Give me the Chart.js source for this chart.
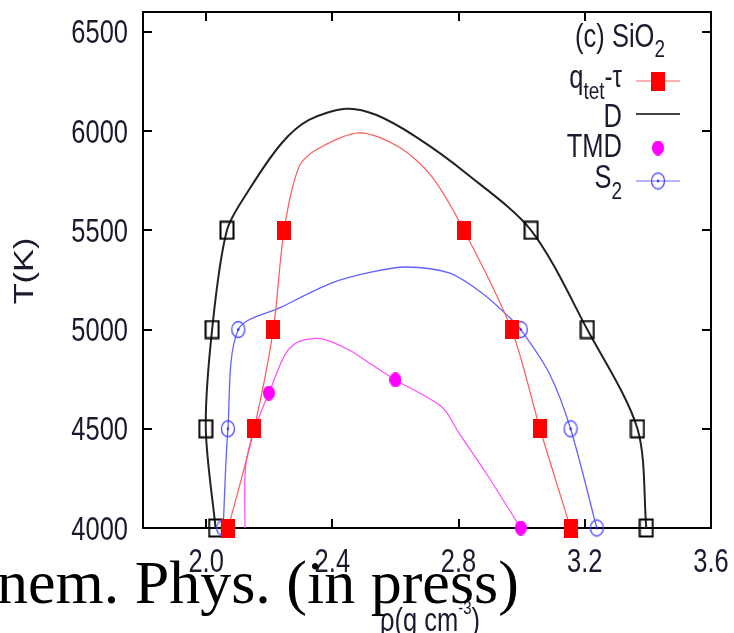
<!DOCTYPE html>
<html>
<head>
<meta charset="utf-8">
<script src="https://cdn.jsdelivr.net/npm/chart.js@4.4.1/dist/chart.umd.min.js"></script>
<style>
  body { margin: 0; background: #fff; }
  #wrap { width: 734px; height: 633px; }
</style>
</head>
<body>
<div id="wrap"><canvas id="sio2Chart" width="734" height="633"></canvas></div>
<script>
// isotherms where the boundaries were sampled (K)
var isotherms = [4000, 4500, 5000, 5500];

// q_tet-tau anomaly boundary, low and high density side (g/cm^3)
var qtetLow  = [2.07, 2.152, 2.213, 2.247];
var qtetHigh = [3.155, 3.058, 2.968, 2.817];

// diffusivity anomaly boundary
var diffLow  = [2.03, 1.999, 2.019, 2.066];
var diffHigh = [3.395, 3.367, 3.208, 3.03];

// excess entropy S2 boundary (only up to 5000 K)
var s2Low  = [2.054, 2.069, 2.102];
var s2High = [3.238, 3.155, 2.997];

// temperature of maximum density
var tmdRho = [2.199, 2.6, 2.997];
var tmdT   = [4680, 4746, 4000];

// smoothed boundary lines, [rho, T]
var diffCurve = [[2.03, 4000], [1.999, 4500], [2.019, 5000], [2.066, 5500],
  [2.136, 5704], [2.24, 5940], [2.326, 6056], [2.443, 6112], [2.538, 6082],
  [2.665, 5971], [2.823, 5789], [3.03, 5500], [3.208, 5000], [3.367, 4500], [3.395, 4000]];
var qtetCurve = [[2.07, 4000], [2.152, 4500], [2.213, 5000], [2.247, 5500],
  [2.294, 5819], [2.348, 5905], [2.484, 5991], [2.611, 5920], [2.716, 5769],
  [2.817, 5500], [2.968, 5000], [3.058, 4500], [3.155, 4000]];
var s2Curve = [[2.054, 4000], [2.069, 4500], [2.102, 5000],
  [2.24, 5114], [2.399, 5235], [2.526, 5290], [2.633, 5315], [2.77, 5285],
  [2.874, 5184], [2.96, 5063], [2.997, 5000], [3.087, 4781], [3.155, 4500], [3.238, 4000]];
var tmdCurve = [[2.123, 4000], [2.125, 4309], [2.152, 4494], [2.199, 4680],
  [2.252, 4880], [2.294, 4939], [2.367, 4953], [2.453, 4897], [2.527, 4821],
  [2.6, 4746], [2.747, 4610], [2.801, 4479], [2.887, 4277], [2.997, 4000]];

var xTicks = [2.0, 2.4, 2.8, 3.2, 3.6];
var yTicks = [4000, 4500, 5000, 5500, 6000, 6500];

var STRETCH = 1.27;
var SANS = '"Liberation Sans", Arial, sans-serif';
var TEXT = '#1a1a2e';

function pts(xs, ys) {
  return xs.map(function (v, i) { return { x: v, y: ys[i] }; });
}
function pairs(list) {
  return list.map(function (p) { return { x: p[0], y: p[1] }; });
}

// marker sprites (the plot is slightly taller than wide, so are the marks)
function sprite(w, h, draw) {
  var c = document.createElement('canvas');
  c.width = w; c.height = h;
  draw(c.getContext('2d'), w, h);
  return c;
}
var openSquare = sprite(16, 20, function (g, w, h) {
  g.strokeStyle = '#000'; g.lineWidth = 2;
  g.strokeRect(1.5, 1.5, w - 3, h - 3);
});
var redSquare = sprite(14, 19, function (g, w, h) {
  g.fillStyle = '#ff0000'; g.fillRect(0, 0, w, h);
});
var blueRing = sprite(16, 19, function (g, w, h) {
  g.strokeStyle = '#4a4aff'; g.lineWidth = 1.3;
  g.beginPath(); g.ellipse(w / 2, h / 2, w / 2 - 1.5, h / 2 - 1.5, 0, 0, Math.PI * 2); g.stroke();
  g.fillStyle = '#2020ff';
  g.beginPath(); g.arc(w / 2, h / 2, 1.2, 0, Math.PI * 2); g.fill();
});
var magentaDot = sprite(12, 15, function (g, w, h) {
  g.fillStyle = '#ff00ff';
  g.beginPath(); g.ellipse(w / 2, h / 2, w / 2, h / 2, 0, 0, Math.PI * 2); g.fill();
});

function tallText(ctx, str, x, y, size, align, family) {
  ctx.save();
  ctx.translate(x, y);
  ctx.scale(1, STRETCH);
  ctx.font = size + 'px ' + (family || SANS);
  ctx.textAlign = align || 'left';
  ctx.textBaseline = 'alphabetic';
  ctx.fillText(str, 0, 0);
  ctx.restore();
}
// right aligned text made of runs: [text, size, baseline shift]
function richText(ctx, parts, xRight, y) {
  var widths = parts.map(function (p) {
    ctx.font = p[1] + 'px ' + SANS;
    return ctx.measureText(p[0]).width;
  });
  var x = xRight - widths.reduce(function (a, b) { return a + b; }, 0);
  parts.forEach(function (p, i) {
    tallText(ctx, p[0], x, y + p[2], p[1], 'left');
    x += widths[i];
  });
}

// box with inward ticks on all four sides, plus the tick labels
var framePlugin = {
  id: 'frame',
  beforeDatasetsDraw: function (chart) {
    var ctx = chart.ctx, a = chart.chartArea, sx = chart.scales.x, sy = chart.scales.y;
    ctx.save();
    ctx.strokeStyle = '#000';
    ctx.lineWidth = 2;
    ctx.strokeRect(a.left, a.top, a.right - a.left, a.bottom - a.top);
    ctx.beginPath();
    sx.ticks.forEach(function (t) {
      var px = Math.round(sx.getPixelForValue(t.value));
      ctx.moveTo(px, a.bottom); ctx.lineTo(px, a.bottom - 9);
      ctx.moveTo(px, a.top); ctx.lineTo(px, a.top + 9);
    });
    sy.ticks.forEach(function (t) {
      var py = Math.round(sy.getPixelForValue(t.value));
      ctx.moveTo(a.left, py); ctx.lineTo(a.left + 9, py);
      ctx.moveTo(a.right, py); ctx.lineTo(a.right - 9, py);
    });
    ctx.stroke();

    ctx.fillStyle = TEXT;
    sx.ticks.forEach(function (t) {
      tallText(ctx, t.value.toFixed(1), sx.getPixelForValue(t.value), a.bottom + 44, 25.5, 'center');
    });
    sy.ticks.forEach(function (t) {
      tallText(ctx, String(t.value), a.left - 15, sy.getPixelForValue(t.value) + 11.5, 25.5, 'right');
    });
    ctx.restore();
  }
};

// titles, key and caption
var labelPlugin = {
  id: 'labels',
  afterDraw: function (chart) {
    var ctx = chart.ctx;
    ctx.save();
    ctx.fillStyle = TEXT;

    // axis titles
    ctx.save();
    ctx.translate(26, 271);
    ctx.rotate(-Math.PI / 2);
    ctx.scale(STRETCH, 1);
    ctx.font = '27px ' + SANS;
    ctx.textAlign = 'center';
    ctx.textBaseline = 'middle';
    ctx.fillText('T(K)', 0, 0);
    ctx.restore();
    richText(ctx, [['\u03c1(g cm', 25.5, 0], ['-3', 15, -17], [')', 25.5, 0]], 480, 631);

    // key
    richText(ctx, [['(c) SiO', 25.5, 0], ['2', 19, 10]], 665, 47);
    richText(ctx, [['q', 25.5, 0], ['tet', 19, 11], ['-\u03c4', 24, -1]], 622, 88);
    richText(ctx, [['D', 25.5, 0]], 622, 127);
    richText(ctx, [['TMD', 25.5, 0]], 622, 157);
    richText(ctx, [['S', 25.5, 0], ['2', 19, 11]], 622, 188);

    ctx.lineWidth = 1.2;
    ctx.strokeStyle = '#ff6060';
    ctx.beginPath(); ctx.moveTo(636, 81); ctx.lineTo(680, 81); ctx.stroke();
    ctx.drawImage(redSquare, 658 - 7, 81 - 9.5);
    ctx.lineWidth = 2;
    ctx.strokeStyle = '#444';
    ctx.beginPath(); ctx.moveTo(636, 114); ctx.lineTo(680, 114); ctx.stroke();
    ctx.drawImage(magentaDot, 658 - 6, 148 - 7.5);
    ctx.lineWidth = 1.2;
    ctx.strokeStyle = '#6a6aff';
    ctx.beginPath(); ctx.moveTo(636, 181); ctx.lineTo(680, 181); ctx.stroke();
    ctx.drawImage(blueRing, 658 - 8, 181 - 9.5);

    // caption running across the foot of the figure
    ctx.fillStyle = '#000';
    ctx.font = '62px "Liberation Serif", "Times New Roman", serif';
    ctx.textAlign = 'left';
    ctx.textBaseline = 'alphabetic';
    ctx.fillText('nem. Phys. (in press)', -3, 603);
    ctx.restore();
  }
};

function curve(list, color, width) {
  return {
    data: pairs(list), showLine: true, borderColor: color, borderWidth: width,
    pointRadius: 0, tension: 0.3, order: 2
  };
}
function marks(data, img) {
  return {
    data: data, showLine: false, pointStyle: img, pointRadius: 8,
    clip: false, order: 1
  };
}

new Chart(document.getElementById('sio2Chart'), {
  type: 'scatter',
  data: {
    datasets: [
      marks(pts(qtetLow, isotherms).concat(pts(qtetHigh, isotherms)), redSquare),
      marks(pts(s2Low, isotherms).concat(pts(s2High, isotherms)), blueRing),
      marks(pts(tmdRho, tmdT), magentaDot),
      marks(pts(diffLow, isotherms).concat(pts(diffHigh, isotherms)), openSquare),
      curve(qtetCurve, '#ff5a5a', 1.2),
      curve(diffCurve, '#222', 2),
      curve(tmdCurve, '#ff4cff', 1.2),
      curve(s2Curve, '#6262ff', 1.3)
    ]
  },
  options: {
    responsive: false,
    animation: false,
    devicePixelRatio: 1,
    layout: { padding: { left: 0, right: 23, top: 12, bottom: 0 } },
    plugins: { legend: { display: false }, tooltip: { enabled: false } },
    scales: {
      x: {
        type: 'linear', min: 1.8, max: 3.6,
        afterBuildTicks: function (s) { s.ticks = xTicks.map(function (v) { return { value: v }; }); },
        afterFit: function (s) { s.height = 105; },
        grid: { display: false, drawTicks: false },
        border: { display: false },
        ticks: { display: false }
      },
      y: {
        min: 4000, max: 6600,
        afterBuildTicks: function (s) { s.ticks = yTicks.map(function (v) { return { value: v }; }); },
        afterFit: function (s) { s.width = 143; },
        grid: { display: false, drawTicks: false },
        border: { display: false },
        ticks: { display: false }
      }
    }
  },
  plugins: [framePlugin, labelPlugin]
});
</script>
</body>
</html>
